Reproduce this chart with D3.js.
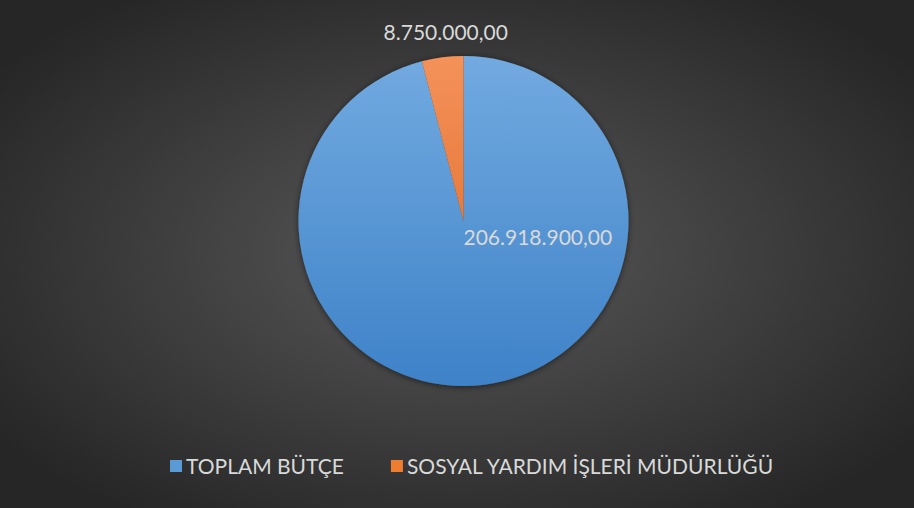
<!DOCTYPE html>
<html>
<head>
<meta charset="utf-8">
<script src="https://cdn.jsdelivr.net/npm/d3@7"></script>
<style>
  html, body { margin: 0; padding: 0; background: #2b2b2b; }
  svg { display: block; }
  text { font-family: Lato, "Open Sans", sans-serif; fill: #d9d9d9; }
</style>
</head>
<body>
<svg id="chart" width="914" height="508"></svg>
<script>
// data
const categories = ["TOPLAM BÜTÇE", "SOSYAL YARDIM İŞLERİ MÜDÜRLÜĞÜ"];
const values = [206918900, 8750000];
const valueLabels = ["206.918.900,00", "8.750.000,00"];

const W = 914, H = 508;
const cx = 463.5, cy = 221, R = 165;

const svg = d3.select("#chart");
const defs = svg.append("defs");

// background radial gradient
const bg = defs.append("radialGradient").attr("id", "bg")
  .attr("cx", "50%").attr("cy", "50%").attr("r", "62%");
bg.append("stop").attr("offset", "0%").attr("stop-color", "#595959");
bg.append("stop").attr("offset", "100%").attr("stop-color", "#262626");

svg.append("rect").attr("width", W).attr("height", H).attr("fill", "url(#bg)");

// slice gradients, top light -> bottom darker (local coords of the pie group)
const sliceCols = [["#72aae0", "#3e82c8"], ["#f4925a", "#d9621d"]];
sliceCols.forEach((c, i) => {
  const lg = defs.append("linearGradient").attr("id", "sg" + i)
    .attr("gradientUnits", "userSpaceOnUse")
    .attr("x1", 0).attr("y1", -R).attr("x2", 0).attr("y2", R);
  lg.append("stop").attr("offset", "0%").attr("stop-color", c[0]);
  lg.append("stop").attr("offset", "100%").attr("stop-color", c[1]);
});

const sh = defs.append("filter").attr("id", "shadow")
  .attr("x", "-10%").attr("y", "-10%").attr("width", "120%").attr("height", "120%");
sh.append("feDropShadow").attr("dx", 0).attr("dy", 1).attr("stdDeviation", 3)
  .attr("flood-color", "#000").attr("flood-opacity", 0.55);

const pie = d3.pie().sort(null).value(d => d);
const arcs = pie(values);
const arc = d3.arc().innerRadius(0).outerRadius(R);

const g = svg.append("g").attr("transform", `translate(${cx},${cy})`);

g.append("g").attr("filter", "url(#shadow)")
  .selectAll("path")
  .data(arcs)
  .join("path")
  .attr("d", arc)
  .attr("fill", (d, i) => `url(#sg${i})`);

// data labels
// big slice: best-fit puts it inside, right of the centre
g.append("text")
  .attr("x", 0).attr("y", 24)
  .attr("font-size", 21)
  .attr("text-anchor", "start")
  .text(valueLabels[0]);

// small slice: outside end
const outer = d3.arc().innerRadius(R + 22).outerRadius(R + 22);
const [lx, ly] = outer.centroid(arcs[1]);
g.append("text")
  .attr("x", lx + 6).attr("y", ly + 4)
  .attr("font-size", 21)
  .attr("text-anchor", "middle")
  .text(valueLabels[1]);

// legend
const color = ["#5b9bd5", "#ed7d31"];
const legend = svg.append("g").attr("transform", "translate(170,466)");
let x = 0;
categories.forEach((c, i) => {
  const item = legend.append("g").attr("transform", `translate(${x},0)`);
  item.append("rect").attr("x", 0).attr("y", -6).attr("width", 12).attr("height", 12)
    .attr("fill", color[i]);
  const t = item.append("text").attr("x", 16).attr("y", 7.5)
    .attr("font-size", 21).text(c);
  x += 16 + t.node().getComputedTextLength() + 47;
});
</script>
</body>
</html>
